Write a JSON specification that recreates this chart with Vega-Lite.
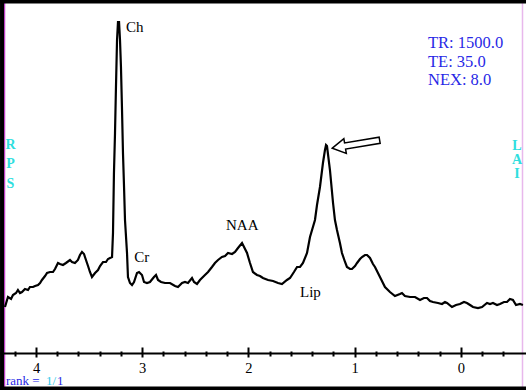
{
  "$schema": "https://vega.github.io/schema/vega-lite/v6.json",
  "width": 526,
  "height": 390,
  "autosize": "none",
  "padding": 0,
  "background": "white",
  "config": {"view": {"stroke": null}},
  "datasets": {
    "spectrum": [
      {"ppm":4.292,"intensity":46},{"ppm":4.264,"intensity":56},{"ppm":4.235,"intensity":54},{"ppm":4.217,"intensity":58},{"ppm":4.188,"intensity":60},{"ppm":4.170,"intensity":63},{"ppm":4.151,"intensity":60},{"ppm":4.132,"intensity":61},{"ppm":4.104,"intensity":64},{"ppm":4.075,"intensity":63},{"ppm":4.057,"intensity":66},{"ppm":4.028,"intensity":66},{"ppm":4.009,"intensity":67},{"ppm":3.981,"intensity":68},{"ppm":3.962,"intensity":70},{"ppm":3.944,"intensity":73},{"ppm":3.915,"intensity":77},{"ppm":3.896,"intensity":80},{"ppm":3.868,"intensity":81},{"ppm":3.840,"intensity":81},{"ppm":3.821,"intensity":84},{"ppm":3.793,"intensity":90},{"ppm":3.774,"intensity":89},{"ppm":3.746,"intensity":88},{"ppm":3.718,"intensity":90},{"ppm":3.680,"intensity":93},{"ppm":3.661,"intensity":91},{"ppm":3.633,"intensity":90},{"ppm":3.605,"intensity":93},{"ppm":3.586,"intensity":98},{"ppm":3.567,"intensity":101},{"ppm":3.548,"intensity":99},{"ppm":3.539,"intensity":96},{"ppm":3.510,"intensity":87},{"ppm":3.492,"intensity":81},{"ppm":3.473,"intensity":76},{"ppm":3.444,"intensity":80},{"ppm":3.416,"intensity":83},{"ppm":3.397,"intensity":87},{"ppm":3.369,"intensity":91},{"ppm":3.341,"intensity":91},{"ppm":3.322,"intensity":94},{"ppm":3.303,"intensity":95},{"ppm":3.284,"intensity":96},{"ppm":3.275,"intensity":120},{"ppm":3.266,"intensity":180},{"ppm":3.256,"intensity":220},{"ppm":3.247,"intensity":266},{"ppm":3.237,"intensity":313},{"ppm":3.228,"intensity":331},{"ppm":3.218,"intensity":331},{"ppm":3.209,"intensity":313},{"ppm":3.200,"intensity":286},{"ppm":3.190,"intensity":243},{"ppm":3.181,"intensity":200},{"ppm":3.171,"intensity":166},{"ppm":3.162,"intensity":133},{"ppm":3.143,"intensity":100},{"ppm":3.134,"intensity":76},{"ppm":3.115,"intensity":70},{"ppm":3.096,"intensity":68},{"ppm":3.077,"intensity":71},{"ppm":3.049,"intensity":80},{"ppm":3.030,"intensity":81},{"ppm":3.002,"intensity":78},{"ppm":2.983,"intensity":71},{"ppm":2.955,"intensity":70},{"ppm":2.927,"intensity":71},{"ppm":2.889,"intensity":76},{"ppm":2.870,"intensity":78},{"ppm":2.851,"intensity":73},{"ppm":2.823,"intensity":71},{"ppm":2.785,"intensity":70},{"ppm":2.738,"intensity":70},{"ppm":2.691,"intensity":67},{"ppm":2.663,"intensity":66},{"ppm":2.625,"intensity":70},{"ppm":2.597,"intensity":71},{"ppm":2.569,"intensity":70},{"ppm":2.531,"intensity":75},{"ppm":2.512,"intensity":71},{"ppm":2.484,"intensity":69},{"ppm":2.456,"intensity":73},{"ppm":2.409,"intensity":78},{"ppm":2.380,"intensity":81},{"ppm":2.343,"intensity":86},{"ppm":2.315,"intensity":90},{"ppm":2.286,"intensity":93},{"ppm":2.249,"intensity":96},{"ppm":2.220,"intensity":97},{"ppm":2.192,"intensity":100},{"ppm":2.154,"intensity":99},{"ppm":2.126,"intensity":101},{"ppm":2.098,"intensity":105},{"ppm":2.060,"intensity":110},{"ppm":2.041,"intensity":106},{"ppm":2.013,"intensity":100},{"ppm":1.985,"intensity":90},{"ppm":1.957,"intensity":81},{"ppm":1.919,"intensity":78},{"ppm":1.891,"intensity":77},{"ppm":1.863,"intensity":75},{"ppm":1.815,"intensity":73},{"ppm":1.768,"intensity":72},{"ppm":1.721,"intensity":70},{"ppm":1.684,"intensity":69},{"ppm":1.637,"intensity":73},{"ppm":1.608,"intensity":75},{"ppm":1.571,"intensity":81},{"ppm":1.542,"intensity":86},{"ppm":1.514,"intensity":86},{"ppm":1.486,"intensity":90},{"ppm":1.448,"intensity":100},{"ppm":1.420,"intensity":116},{"ppm":1.373,"intensity":133},{"ppm":1.354,"intensity":148},{"ppm":1.326,"intensity":166},{"ppm":1.298,"intensity":190},{"ppm":1.279,"intensity":203},{"ppm":1.269,"intensity":208},{"ppm":1.260,"intensity":207},{"ppm":1.232,"intensity":183},{"ppm":1.203,"intensity":150},{"ppm":1.185,"intensity":133},{"ppm":1.166,"intensity":123},{"ppm":1.138,"intensity":110},{"ppm":1.119,"intensity":100},{"ppm":1.090,"intensity":91},{"ppm":1.072,"intensity":86},{"ppm":1.043,"intensity":84},{"ppm":1.025,"intensity":84},{"ppm":0.996,"intensity":87},{"ppm":0.977,"intensity":90},{"ppm":0.949,"intensity":94},{"ppm":0.930,"intensity":96},{"ppm":0.902,"intensity":98},{"ppm":0.883,"intensity":98},{"ppm":0.855,"intensity":95},{"ppm":0.827,"intensity":89},{"ppm":0.808,"intensity":86},{"ppm":0.761,"intensity":76},{"ppm":0.714,"intensity":66},{"ppm":0.667,"intensity":61},{"ppm":0.620,"intensity":57},{"ppm":0.573,"intensity":59},{"ppm":0.554,"intensity":60},{"ppm":0.526,"intensity":57},{"ppm":0.478,"intensity":56},{"ppm":0.431,"intensity":56},{"ppm":0.384,"intensity":53},{"ppm":0.347,"intensity":55},{"ppm":0.318,"intensity":55},{"ppm":0.290,"intensity":52},{"ppm":0.262,"intensity":51},{"ppm":0.215,"intensity":50},{"ppm":0.177,"intensity":49},{"ppm":0.149,"intensity":51},{"ppm":0.130,"intensity":50},{"ppm":0.083,"intensity":46},{"ppm":0.045,"intensity":48},{"ppm":0.008,"intensity":49},{"ppm":-0.030,"intensity":51},{"ppm":-0.058,"intensity":50},{"ppm":-0.087,"intensity":48},{"ppm":-0.115,"intensity":46},{"ppm":-0.162,"intensity":45},{"ppm":-0.200,"intensity":46},{"ppm":-0.247,"intensity":50},{"ppm":-0.275,"intensity":49},{"ppm":-0.303,"intensity":50},{"ppm":-0.341,"intensity":48},{"ppm":-0.369,"intensity":49},{"ppm":-0.407,"intensity":51},{"ppm":-0.435,"intensity":51},{"ppm":-0.463,"intensity":54},{"ppm":-0.491,"intensity":53},{"ppm":-0.520,"intensity":48},{"ppm":-0.557,"intensity":49},{"ppm":-0.585,"intensity":48}
    ],
    "frame": [
      {"edge":"left","ppm":4.320,"ppm2":4.320,"intensity":-37,"intensity2":353},
      {"edge":"top","ppm":4.339,"ppm2":-0.614,"intensity":351.5,"intensity2":351.5},
      {"edge":"bottom","ppm":4.339,"ppm2":-0.614,"intensity":-35.5,"intensity2":-35.5}
    ],
    "peaks": [
      {"label":"Ch","ppm":3.153,"intensity":321.3},
      {"label":"Cr","ppm":3.074,"intensity":91.3},
      {"label":"NAA","ppm":2.211,"intensity":123},
      {"label":"Lip","ppm":1.514,"intensity":56.3}
    ],
    "arrow": [{"ppm":0.987,"intensity":208.8}],
    "params": [
      {"label":"TR: 1500.0","ppm":0.309,"intensity":304.7},
      {"label":"TE: 35.0","ppm":0.309,"intensity":286.3},
      {"label":"NEX: 8.0","ppm":0.309,"intensity":268}
    ],
    "orient": [
      {"label":"R","ppm":4.240,"intensity":203.7},
      {"label":"P","ppm":4.240,"intensity":184.7},
      {"label":"S","ppm":4.240,"intensity":165.3},
      {"label":"L","ppm":-0.529,"intensity":203},
      {"label":"A","ppm":-0.529,"intensity":189},
      {"label":"I","ppm":-0.529,"intensity":175}
    ],
    "rankBlue": [
      {"label":"rank = ","ppm":4.283,"intensity":-32},
      {"label":"1","ppm":3.802,"intensity":-32}
    ],
    "rankCyan": [
      {"label":"1/","ppm":3.906,"intensity":-32}
    ]
  },
  "encoding": {
    "x": {
      "field": "ppm", "type": "quantitative",
      "scale": {"domain": [-0.614, 4.339], "reverse": true, "nice": false, "zero": false},
      "axis": {
        "values": [4.297,4.2,4,3.8,3.6,3.4,3.2,3,2.8,2.6,2.4,2.2,2,1.8,1.6,1.4,1.2,1,0.8,0.6,0.4,0.2,0,-0.2,-0.4,-0.572],
        "offset": -43,
        "title": null,
        "domain": false,
        "grid": true,
        "gridWidth": 1.5,
        "gridColor": {"condition": {"test": "datum.value > 4", "value": "#c040c8"}, "value": "#e8b8ec"},
        "gridOpacity": {"condition": {"test": "datum.value > 4.25 || datum.value < -0.5", "value": 1}, "value": 0},
        "tickColor": "black", "tickWidth": 2, "tickSize": 10,
        "tickOpacity": {"condition": {"test": "datum.value > 4.25 || datum.value < -0.5", "value": 0}, "value": 1},
        "tickDash": {"condition": {"test": "abs(datum.value - round(datum.value)) < 0.001", "value": []}, "value": [0, 4, 5, 10]},
        "labelExpr": "abs(datum.value - round(datum.value)) < 0.001 ? format(datum.value, 'd') : ''",
        "labelFont": "Liberation Serif", "labelFontSize": 14.5, "labelColor": "black", "labelPadding": 4,
        "labelFlush": false, "labelOverlap": false
      }
    },
    "y": {
      "field": "intensity", "type": "quantitative",
      "scale": {"domain": [-37, 353], "nice": false, "zero": false},
      "axis": {
        "values": [0],
        "title": null,
        "domain": false,
        "ticks": false,
        "labels": false,
        "grid": true,
        "gridColor": "black",
        "gridOpacity": 1,
        "gridWidth": 2
      }
    }
  },
  "layer": [
    {
      "data": {"name": "frame"},
      "mark": {"type": "rule", "color": "black", "strokeWidth": 4},
      "encoding": {
        "x2": {"field": "ppm2"},
        "y2": {"field": "intensity2"}
      }
    },
    {
      "data": {"name": "spectrum"},
      "mark": {"type": "line", "color": "black", "strokeWidth": 2.2, "interpolate": "linear"}
    },
    {
      "data": {"name": "peaks"},
      "mark": {"type": "text", "align": "left", "baseline": "alphabetic", "font": "Liberation Serif", "fontSize": 15, "color": "black"},
      "encoding": {"text": {"field": "label"}}
    },
    {
      "data": {"name": "arrow"},
      "mark": {"type": "point", "shape": "M-1,0 L-0.46,-0.31 L-0.46,-0.13 L1,-0.13 L1,0.13 L-0.46,0.13 L-0.46,0.31 Z", "size": 2304, "angle": 350.5, "filled": true, "fill": "white", "stroke": "black", "strokeWidth": 1.5, "opacity": 1}
    },
    {
      "data": {"name": "params"},
      "mark": {"type": "text", "align": "left", "baseline": "alphabetic", "font": "Liberation Serif", "fontSize": 16.5, "color": "#2828e6"},
      "encoding": {"text": {"field": "label"}}
    },
    {
      "data": {"name": "orient"},
      "mark": {"type": "text", "align": "center", "baseline": "alphabetic", "font": "Liberation Serif", "fontSize": 14, "fontWeight": "bold", "color": "#30dede"},
      "encoding": {"text": {"field": "label"}}
    },
    {
      "data": {"name": "rankBlue"},
      "mark": {"type": "text", "align": "left", "baseline": "alphabetic", "font": "Liberation Serif", "fontSize": 13, "color": "#2828e6"},
      "encoding": {"text": {"field": "label"}}
    },
    {
      "data": {"name": "rankCyan"},
      "mark": {"type": "text", "align": "left", "baseline": "alphabetic", "font": "Liberation Serif", "fontSize": 13, "color": "#30c8e8"},
      "encoding": {"text": {"field": "label"}}
    }
  ]
}
